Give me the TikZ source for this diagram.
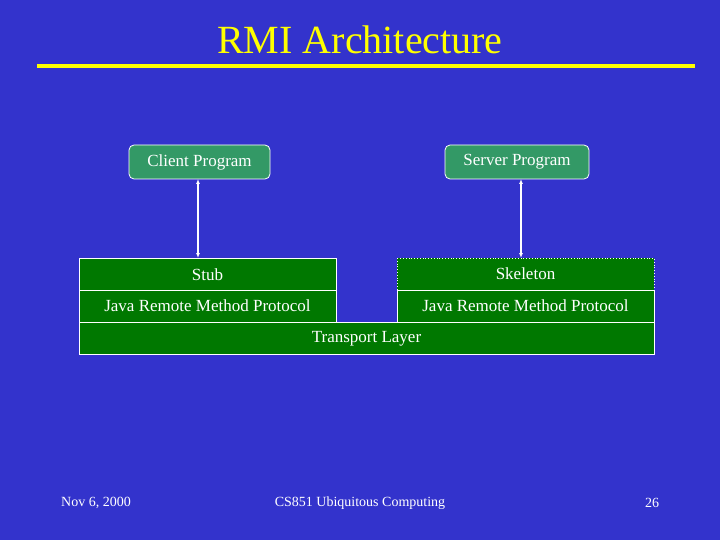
\documentclass[tikz,border=0pt]{standalone}
\usepackage{fontspec}
\setmainfont{Liberation Serif}
\usetikzlibrary{arrows.meta}
\definecolor{bg}{RGB}{51,51,204}
\definecolor{ttl}{RGB}{255,255,0}
\definecolor{gr}{RGB}{0,120,0}
\definecolor{tl}{RGB}{51,153,102}
\begin{document}
\begin{tikzpicture}[x=1pt,y=-1pt,
  gbox/.style={draw=white,fill=gr,line width=0.8pt},
  rbox/.style={draw=white,fill=tl,rounded corners=5pt,line width=0.8pt},
  lbl/.style={text=white,font=\fontsize{17}{19}\selectfont},
  foot/.style={text=white,font=\fontsize{14}{16}\selectfont},
  arr/.style={draw=white,line width=1.5pt,{Latex[length=5pt,width=4pt]}-{Latex[length=5pt,width=4pt]}}]
\fill[bg] (0,0) rectangle (720,540);
\useasboundingbox (0,0) rectangle (720,540);
\node[text=ttl,font=\fontsize{40}{44}\selectfont] (title) at (360,40) {RMI Architecture};
\draw[ttl,line width=4pt] (37,66) coordinate (l1) -- (695,66) coordinate (l2);
\draw[rbox] (129,145) rectangle (270,179);
\node[lbl] (client) at (199.5,162) {Client Program};
\draw[rbox] (445,145) rectangle (589,179);
\node[lbl] (server) at (517,162) {Server Program};
\draw[gbox] (79,258) rectangle (336,290);
\node[lbl] (stub) at (207.5,275) {Stub};
\draw[gbox] (79,290) rectangle (336,322);
\node[lbl] (jl) at (207.5,306) {Java Remote Method Protocol};
\draw[gbox,dotted] (397,258) rectangle (654,290);
\node[lbl] (skel) at (525.5,274) {Skeleton};
\draw[gbox] (397,290) rectangle (654,322);
\node[lbl] (jr) at (525.5,306) {Java Remote Method Protocol};
\draw[gbox] (79,322) rectangle (654,354);
\node[lbl] (tlayer) at (366.5,339) {Transport Layer};
\coordinate (a1) at (198,179); \coordinate (a2) at (198,258);
\coordinate (b1) at (521,179); \coordinate (b2) at (521,258);
\draw[arr] (a1) -- (a2);
\draw[arr] (b1) -- (b2);
\node[foot] (f1) at (96,503) {Nov 6, 2000};
\node[foot] (f2) at (360,503) {CS851 Ubiquitous Computing};
\node[foot] (f3) at (652,503) {26};
\end{tikzpicture}
\end{document}
